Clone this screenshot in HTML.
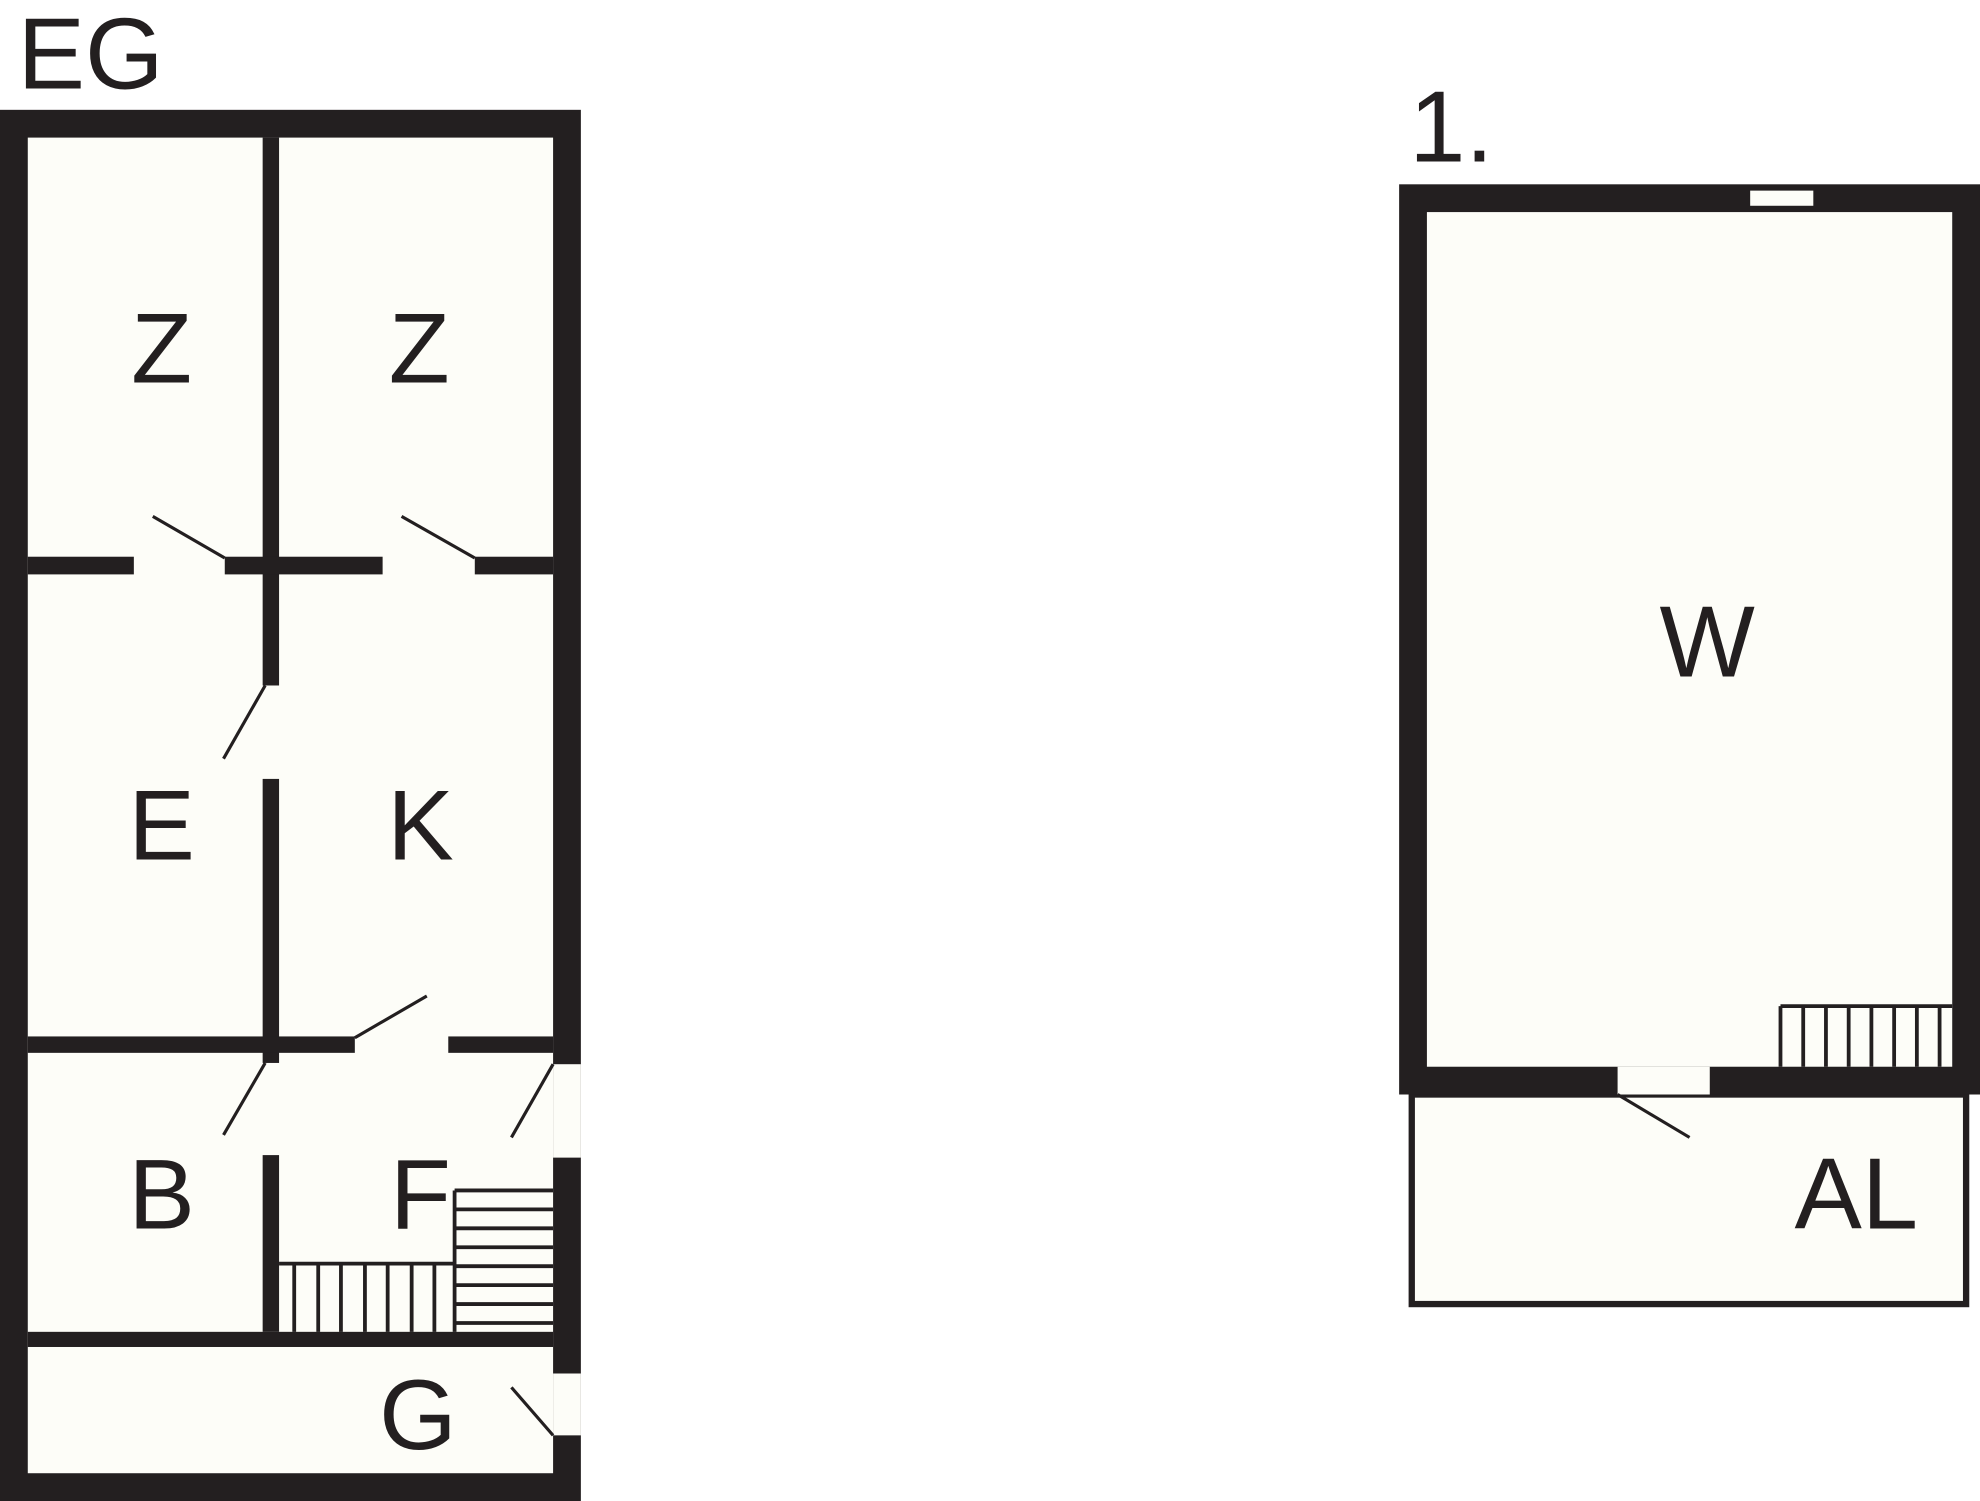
<!DOCTYPE html>
<html><head><meta charset="utf-8"><style>
html,body{margin:0;padding:0;background:#fff;}
svg{display:block;}
text{font-family:"Liberation Sans",sans-serif;fill:#231f20;}
</style></head><body>
<svg width="1980" height="1501" viewBox="0 0 1568 1189" preserveAspectRatio="none" xmlns="http://www.w3.org/2000/svg">
<rect width="1568" height="1189" fill="#fff"/>
<!-- EG -->
<text x="14" y="70" font-size="80">EG</text>
<rect x="0" y="87" width="460" height="1102" fill="#231f20"/>
<rect x="22" y="109" width="416" height="1058" fill="#fdfdf8"/>
<!-- right wall door gaps -->
<rect x="438" y="843" width="22" height="74" fill="#fdfdf8"/>
<rect x="438" y="1088" width="22" height="49" fill="#fdfdf8"/>
<!-- vertical middle wall -->
<g fill="#231f20">
<rect x="208" y="109" width="13" height="434"/>
<rect x="208" y="617" width="13" height="225"/>
<rect x="208" y="915" width="13" height="140"/>
<!-- horizontal walls -->
<rect x="22" y="441" width="84" height="14"/>
<rect x="178" y="441" width="125" height="14"/>
<rect x="376" y="441" width="62" height="14"/>
<rect x="22" y="821" width="259" height="13"/>
<rect x="355" y="821" width="83" height="13"/>
<rect x="22" y="1055" width="416" height="12"/>
</g>
<!-- stairs -->
<g stroke="#231f20" stroke-width="3" fill="none">
<line x1="221" y1="1001" x2="360" y2="1001"/>
<line x1="233" y1="1001" x2="233" y2="1055"/>
<line x1="252" y1="1001" x2="252" y2="1055"/>
<line x1="270" y1="1001" x2="270" y2="1055"/>
<line x1="289" y1="1001" x2="289" y2="1055"/>
<line x1="307" y1="1001" x2="307" y2="1055"/>
<line x1="326" y1="1001" x2="326" y2="1055"/>
<line x1="344" y1="1001" x2="344" y2="1055"/>
<line x1="360" y1="943" x2="360" y2="1055"/>
<line x1="360" y1="943" x2="438" y2="943"/>
<line x1="360" y1="958" x2="438" y2="958"/>
<line x1="360" y1="973" x2="438" y2="973"/>
<line x1="360" y1="988" x2="438" y2="988"/>
<line x1="360" y1="1003" x2="438" y2="1003"/>
<line x1="360" y1="1018" x2="438" y2="1018"/>
<line x1="360" y1="1033" x2="438" y2="1033"/>
<line x1="360" y1="1048" x2="438" y2="1048"/>
</g>
<!-- door swings -->
<g stroke="#231f20" stroke-width="2.5">
<line x1="121" y1="409" x2="178" y2="442"/>
<line x1="318" y1="409" x2="376" y2="442"/>
<line x1="210" y1="543" x2="177" y2="601"/>
<line x1="338" y1="789" x2="281" y2="822"/>
<line x1="210" y1="842" x2="177" y2="899"/>
<line x1="438" y1="843" x2="405" y2="901"/>
<line x1="405" y1="1099" x2="438" y2="1137"/>
</g>
<g font-size="79" text-anchor="middle">
<text x="128" y="303">Z</text>
<text x="332" y="303">Z</text>
<text x="128" y="681">E</text>
<text x="333" y="681">K</text>
<text x="128" y="973">B</text>
<text x="333" y="973">F</text>
<text x="331" y="1148">G</text>
</g>
<!-- 1. floor -->
<text x="1116" y="128" font-size="80">1.</text>
<rect x="1118" y="867" width="439" height="166" fill="#fdfdf8" stroke="#231f20" stroke-width="5"/>
<rect x="1108" y="146" width="460" height="721" fill="#231f20"/>
<rect x="1130" y="168" width="416" height="677" fill="#fdfdf8"/>
<rect x="1386" y="151" width="50" height="12" fill="#fdfdf8"/>
<rect x="1281" y="845" width="73" height="22" fill="#fdfdf8"/>
<line x1="1281" y1="867" x2="1338" y2="901" stroke="#231f20" stroke-width="2.5"/>
<g stroke="#231f20" stroke-width="3">
<line x1="1410" y1="797" x2="1546" y2="797"/>
<line x1="1410" y1="797" x2="1410" y2="845"/>
<line x1="1428" y1="797" x2="1428" y2="845"/>
<line x1="1446" y1="797" x2="1446" y2="845"/>
<line x1="1464" y1="797" x2="1464" y2="845"/>
<line x1="1482" y1="797" x2="1482" y2="845"/>
<line x1="1500" y1="797" x2="1500" y2="845"/>
<line x1="1518" y1="797" x2="1518" y2="845"/>
<line x1="1536" y1="797" x2="1536" y2="845"/>
</g>
<g font-size="80" text-anchor="middle">
<text x="1352" y="536">W</text>
<text x="1470" y="973">AL</text>
</g>
</svg>
</body></html>
